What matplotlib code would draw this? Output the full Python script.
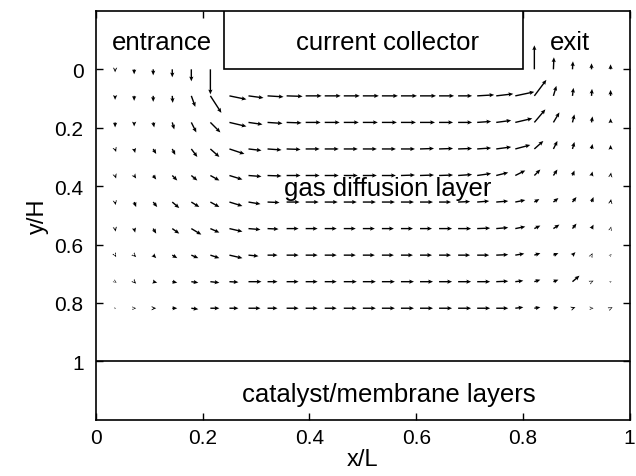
import numpy as np
import matplotlib
matplotlib.use("Agg")
import matplotlib.pyplot as plt
from matplotlib.patches import Rectangle

plt.rcParams['font.family'] = ['Liberation Sans', 'DejaVu Sans']

# grid of vector positions (x/L, y/H)
x_pos = np.arange(1, 28) / 28.0
y_pos = np.arange(0, 10) / 11.0

# velocity, arbitrary units
# u: along the channel (to the right), w: towards the membrane (down)
u_rows = [
    [0, 0, 0, 0, 0, 0, 0, 0, 0, 0, 0, 0, 0, 0, 0, 0, 0, 0, 0, 0, 0, 0, 0, 0.5, 0.5, 0, 0],
    [0, 0, 0, 0.5, 4, 11, 17, 15, 16, 16, 16, 16, 16, 16, 16, 16, 16, 15, 14, 17, 17, 19, 12, 3, 1, 0.5, 0],
    [0, 0, 1, 2, 5, 10, 17, 14, 15, 15, 15, 15, 15, 15, 15, 15, 15, 14, 14, 14, 15, 17, 11, 6, 2, 1, 0],
    [1, 1, 3, 3, 6, 9, 15, 13, 14, 14, 14, 14, 14, 14, 14, 14, 14, 14, 14, 14, 15, 15, 9, 4, 2, 1, 0],
    [1, 2, 3, 5, 6, 9, 13, 13, 14, 14, 14, 14, 14, 14, 14, 14, 14, 14, 14, 14, 12, 10, 6, 4, 2, 1, 0.5],
    [0.5, 2, 4, 7, 8, 9, 13, 12, 12, 13, 13, 13, 13, 13, 13, 13, 13, 12, 12, 12, 12, 10, 5, 5, 4, 2, 0.5],
    [0.5, 1, 3, 7, 10, 9, 13, 12, 11, 12, 12, 12, 12, 12, 12, 12, 12, 13, 13, 13, 12, 10, 6, 6, 4, 2, 0.5],
    [1, 2, 3, 5, 7, 9, 13, 10, 10, 12, 12, 12, 12, 12, 12, 12, 12, 12, 12, 12, 12, 9, 6, 5, 3, 1, 1],
    [1.5, 2, 4, 5, 7, 9, 9, 13, 10, 12, 12, 12, 13, 13, 13, 13, 13, 13, 13, 13, 12, 8, 6, 5, 7, 2, 1],
    [1, 2, 3, 5, 7, 9, 9, 12, 10, 12, 12, 12, 13, 13, 13, 13, 13, 13, 13, 13, 12, 8, 6, 5, 3, 2, 2],
]
w_rows = [
    [3, 5, 6, 8, 12, 25, 0, 0, 0, 0, 0, 0, 0, 0, 0, 0, 0, 0, 0, 0, 0, 0, -24, -12, -8, -6, -5],
    [4, 5, 6, 7, 11, 17, 3.5, 2, 1, 0.5, 0, 0, 0, 0, 0, 0, 0, 0, 0, -1, -2, -4, -16, -10, -8, -7, -6],
    [5, 4, 5, 7, 10, 10, 4, 2, 1, 0.5, 0, 0, 0, 0, 0, 0, 0, 0, 0, -1, -2, -4, -13, -10, -8, -6, -4],
    [3, 4, 5, 6, 8, 8, 5, 1.5, 1, 0.5, 0, 0, 0, 0, 0, 0, -0.5, -0.5, -0.5, -1, -2, -4, -8, -8, -7, -5, -4],
    [3, 3, 4, 5, 5, 5, 4, 1, 0.5, 0, 0, 0, 0, 0, 0, -0.5, -0.5, -0.5, -1, -2, -3, -5, -6, -6, -5, -4, -3],
    [3, 5, 5, 6, 5, 5, 4, 2, 0.5, 0, 0, 0, 0, 0, 0, 0, 0, 0, -0.5, -1, -1, -2, -3, -4, -5, -5, -3],
    [3, 4, 5, 5, 6, 4, 3, 1, 0.5, 0, 0, 0, 0, 0, 0, 0, 0, 0, 0, -0.5, -1, -2, -3, -4, -5, -4, -2],
    [2, 2, 3, 3, 3, 3, 3, 1, 0, 0, 0, 0, 0, 0, 0, 0, 0, 0, 0, 0, -0.5, -1.5, -2, -2, -3, -2, -1],
    [1, 2, 1, 1, 1, 1, 0.5, 0, 0, 0, 0, 0, 0, 0, 0, 0, 0, 0, 0, 0, -0.5, -1, -2, -2, -6, -1, -0.5],
    [0, 0, 0, 0, 1, 0, 0, 0, 0, 0, 0, 0, 0, 0, 0, 0, 0, 0, 0, 0, 0, -1, -1, -1, -1, 0, -1],
]

# region boundaries
collector_x = (0.24, 0.80)
membrane_y = 1.0

xticks = [0, 0.2, 0.4, 0.6, 0.8, 1]
yticks = [0, 0.2, 0.4, 0.6, 0.8, 1]
xtick_labels = ['0', '0.2', '0.4', '0.6', '0.8', '1']
ytick_labels = ['0', '0.2', '0.4', '0.6', '0.8', '1']

U = np.array(u_rows, dtype=float)
W = np.array(w_rows, dtype=float)
X, Y = np.meshgrid(x_pos, y_pos)

fig = plt.figure(figsize=(6.36, 4.77), dpi=100)
ax = fig.add_axes([0.151, 0.118, 0.839, 0.857])

# skip zero vectors so nothing is drawn under the collector
keep = (U != 0) | (W != 0)
ax.quiver(X[keep], Y[keep], U[keep], -W[keep], angles='uv', scale_units='dots', scale=1,
          units='dots', width=1.4, headwidth=3.0, headlength=3.4, headaxislength=3.0,
          pivot='tail', color='black', minlength=0.5, minshaft=0.5)

ax.add_patch(Rectangle((collector_x[0], -0.2), collector_x[1] - collector_x[0], 0.2,
                       facecolor='white', edgecolor='black', linewidth=1.2, zorder=3))
ax.axhline(membrane_y, color='black', linewidth=1.2)

ax.text(0.123, -0.095, 'entrance', fontsize=18.5, ha='center', va='center')
ax.text(0.547, -0.095, 'current collector', fontsize=18.5, ha='center', va='center', zorder=4)
ax.text(0.888, -0.095, 'exit', fontsize=18.5, ha='center', va='center')
ax.text(0.547, 0.405, 'gas diffusion layer', fontsize=18.5, ha='center', va='center')
ax.text(0.548, 1.113, 'catalyst/membrane layers', fontsize=18.5, ha='center', va='center')

ax.set_xlim(0, 1)
ax.set_ylim(1.2, -0.2)
ax.set_xticks(xticks)
ax.set_xticklabels(xtick_labels)
ax.set_yticks(yticks)
ax.set_yticklabels(ytick_labels)
ax.tick_params(direction='in', top=True, right=True, length=5, width=1, labelsize=15)
ax.tick_params(axis='x', pad=6)
ax.tick_params(axis='y', pad=9)
for s in ax.spines.values():
    s.set_linewidth(1.2)

ax.set_xlabel('x/L', fontsize=17, labelpad=1)
ax.set_ylabel('y/H', fontsize=17, labelpad=4)

fig.savefig('out.png', dpi=100)
